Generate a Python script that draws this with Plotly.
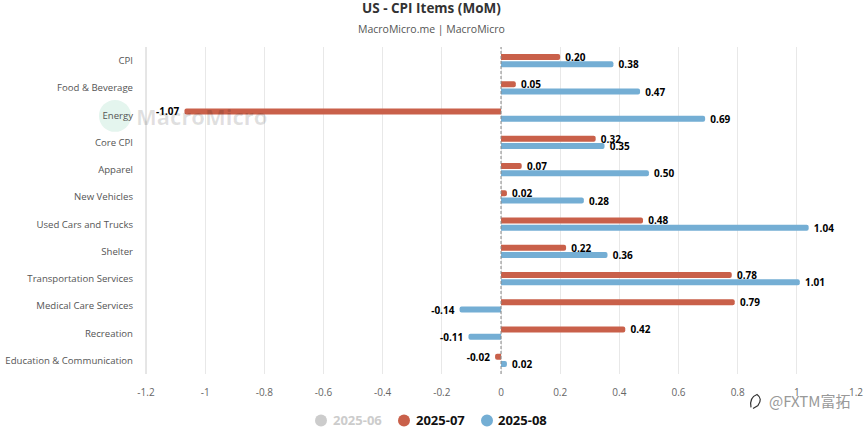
import plotly.graph_objects as go

categories = ["CPI", "Food & Beverage", "Energy", "Core CPI", "Apparel", "New Vehicles",
              "Used Cars and Trucks", "Shelter", "Transportation Services",
              "Medical Care Services", "Recreation", "Education & Communication"]
jul_2025 = [0.20, 0.05, -1.07, 0.32, 0.07, 0.02, 0.48, 0.22, 0.78, 0.79, 0.42, -0.02]
aug_2025 = [0.38, 0.47, 0.69, 0.35, 0.50, 0.28, 1.04, 0.36, 1.01, -0.14, -0.11, 0.02]
x_ticks = [-1.2, -1, -0.8, -0.6, -0.4, -0.2, 0, 0.2, 0.4, 0.6, 0.8, 1, 1.2]
x_labels = ["-1.2", "-1", "-0.8", "-0.6", "-0.4", "-0.2", "0", "0.2", "0.4", "0.6", "0.8", "1", "1.2"]
legend_names = ["2025-06", "2025-07", "2025-08"]

RED = "#c9604a"
BLUE = "#74aed4"
FONT = "Open Sans"
W, H = 864, 432
L, R, T, B = 146, 856, 47, 374.5


def px(v):
    return (v - L) / (R - L)


def py(v):
    return (B - v) / (B - T)


def label(v):
    return f"{v:.2f}\u00a0\u00a0" if v < 0 else f"\u00a0\u00a0{v:.2f}"


fig = go.Figure()
for name, vals, col in [("2025-07", jul_2025, RED), ("2025-08", aug_2025, BLUE)]:
    fig.add_trace(go.Bar(
        y=categories, x=vals, orientation="h", marker=dict(color=col, line_width=0),
        text=[label(v) for v in vals], textposition="outside", cliponaxis=False,
        constraintext="none",
        textfont=dict(family=FONT, size=10, color="#000000", weight="bold"),
        showlegend=False, name=name))

# legend row
legend_style = [(321, 333, "#cccccc", "#cccccc"), (404, 416, RED, "#111111"), (487, 498, BLUE, "#111111")]
for name, (mx, tx, mcol, tcol) in zip(legend_names, legend_style):
    fig.add_shape(type="circle", xref="paper", yref="paper", layer="above",
                  x0=px(mx - 6), x1=px(mx + 6), y0=py(421 + 6), y1=py(421 - 6),
                  fillcolor=mcol, line_width=0)
    fig.add_annotation(text=name, xref="paper", yref="paper", x=px(tx), y=py(421),
                       xanchor="left", yanchor="middle", showarrow=False, xshift=-2,
                       font=dict(family=FONT, size=13, color=tcol, weight="bold"))

fig.add_shape(type="line", xref="paper", yref="paper", x0=0, x1=0, y0=0, y1=1,
              line=dict(color="#cccccc", width=1), layer="below")
fig.add_shape(type="line", xref="x", yref="paper", x0=0, x1=0, y0=0, y1=1,
              line=dict(color="#888888", width=1, dash="3px,2px"), layer="above")
fig.add_shape(type="circle", xref="paper", yref="paper", layer="below",
              x0=px(99), x1=px(131), y0=py(132), y1=py(100),
              fillcolor="#e4f5ee", line_width=0)
fig.add_shape(type="path", xref="paper", yref="paper", layer="above",
              path=f"M {px(751)} {py(408)} Q {px(749)} {py(398)} {px(757)} {py(395)} "
                   f"Q {px(763)} {py(399)} {px(758)} {py(406)} L {px(753)} {py(409)}",
              line=dict(color="#333333", width=1.2))

fig.add_annotation(text="MacroMicro", xref="paper", yref="paper",
                   x=px(134), y=py(116.5), xanchor="left", yanchor="middle",
                   showarrow=False, font=dict(family=FONT, size=22, color="rgba(0,0,0,0.12)", weight="bold"))
fig.add_annotation(text="@FXTM富拓", xref="paper", yref="paper",
                   x=px(767), y=py(401), xanchor="left", yanchor="middle",
                   showarrow=False, font=dict(family="Noto Sans CJK SC", size=15, color="#999999"))
fig.add_annotation(text="US - CPI Items (MoM)", xref="paper", yref="paper",
                   x=px(431), y=py(8), xanchor="center", yanchor="middle",
                   showarrow=False, font=dict(family=FONT, size=13.5, color="#333333", weight="bold"))
fig.add_annotation(text="MacroMicro.me | MacroMicro", xref="paper", yref="paper",
                   x=px(431), y=py(29), xanchor="center", yanchor="middle",
                   showarrow=False, font=dict(family=FONT, size=10.5, color="#555555"))

fig.update_layout(
    width=W, height=H, autosize=False, showlegend=False,
    margin=dict(l=L, r=W - R, t=T, b=H - B, pad=0, autoexpand=False),
    paper_bgcolor="white", plot_bgcolor="white",
    font=dict(family=FONT, color="#666666"),
    barmode="group", bargap=0.465, bargroupgap=0.18, barcornerradius=3,
    xaxis=dict(range=[-1.2, 1.2], tickmode="array", tickvals=x_ticks, ticktext=x_labels,
               showgrid=True, gridcolor="#e8e8e8", gridwidth=1, zeroline=False, showline=False,
               ticks="", tickfont=dict(family=FONT, size=10, color="#666666"), ticklabelstandoff=11),
    yaxis=dict(autorange="reversed", showgrid=False, zeroline=False, showline=False,
               ticks="", tickfont=dict(family=FONT, size=9.6, color="#555555"), ticklabelstandoff=12),
)

fig.write_html("out.html", config={"displayModeBar": False},
               post_script="document.body.style.margin='0';")
